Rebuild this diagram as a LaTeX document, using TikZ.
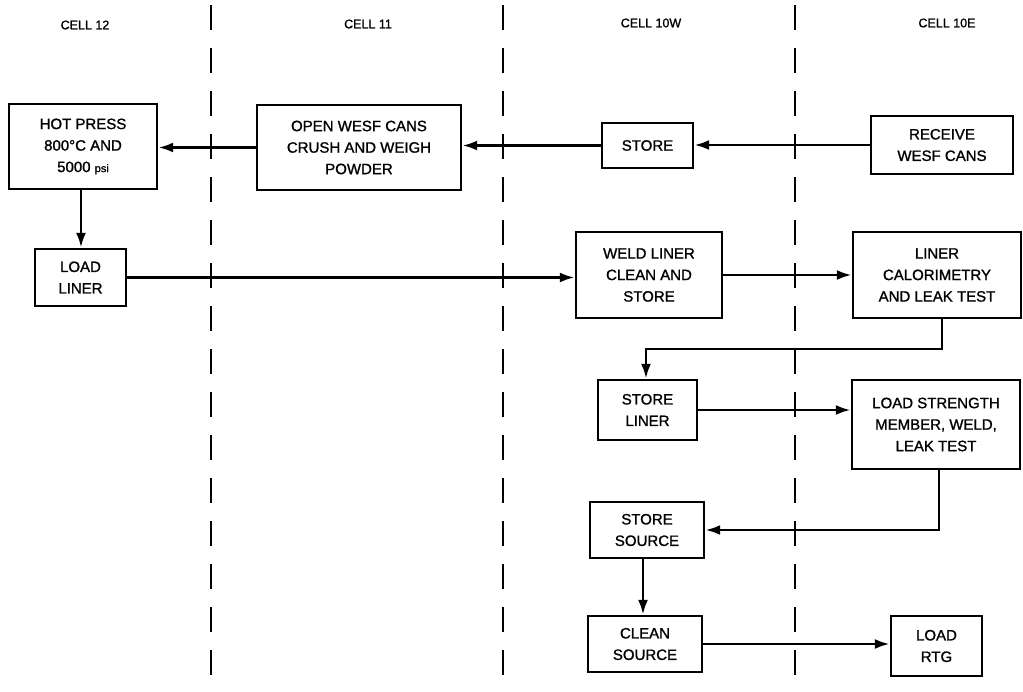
\documentclass[tikz,border=0pt]{standalone}
\usepackage{fontspec}
\setmainfont{Liberation Sans}
\newfontfamily\diagfont[FakeBold=1.2]{Liberation Sans}
\usetikzlibrary{arrows.meta}
\begin{document}
\begin{tikzpicture}[x=1pt,y=-1pt,
  box/.style={draw,line width=2.4pt,rectangle,inner sep=0pt,align=center,
    font=\diagfont\fontsize{15}{21.5}\selectfont},
  flow/.style={line width=2.8pt,-{Latex[length=15pt,width=10pt]}},
  divider/.style={line width=2.6pt,dash pattern=on 25pt off 18pt},
  cell/.style={font=\diagfont\fontsize{12.5}{15}\selectfont}]
\useasboundingbox (0,0) rectangle (1023,691);
% dividers
\draw[divider] (211,5) -- (211,691);
\draw[divider] (503,5) -- (503,691);
\draw[divider] (795,5) -- (795,691);
% cell labels
\node[cell] (c12) at (85,25) {CELL 12};
\node[cell] (c11) at (368,24) {CELL 11};
\node[cell] (c10w) at (651,23) {CELL 10W};
\node[cell] (c10e) at (947,23) {CELL 10E};
% boxes
\node[box,minimum width=148pt,minimum height=85pt] (hot) at (83,146.5) {HOT PRESS\\800\textdegree C AND\\5000 {\fontsize{11}{13}\selectfont psi}};
\node[box,minimum width=204pt,minimum height=85pt] (open) at (359,147.5) {OPEN WESF CANS\\CRUSH AND WEIGH\\POWDER};
\node[box,minimum width=91pt,minimum height=45pt] (store) at (647.5,145.5) {STORE};
\node[box,minimum width=142pt,minimum height=58pt] (recv) at (942,145) {RECEIVE\\WESF CANS};
\node[box,minimum width=91pt,minimum height=57pt] (ll) at (80.5,277.5) {LOAD\\LINER};
\node[box,minimum width=146pt,minimum height=86pt] (weld) at (649,275) {WELD LINER\\CLEAN AND\\STORE};
\node[box,minimum width=168pt,minimum height=86pt] (cal) at (937,275) {LINER\\CALORIMETRY\\AND LEAK TEST};
\node[box,minimum width=99pt,minimum height=60pt] (sl) at (647.5,410) {STORE\\LINER};
\node[box,minimum width=168pt,minimum height=89pt] (ls) at (936,424.5) {LOAD STRENGTH\\MEMBER, WELD,\\LEAK TEST};
\node[box,minimum width=114pt,minimum height=56pt] (ss) at (647,530) {STORE\\SOURCE};
\node[box,minimum width=114pt,minimum height=56pt] (cs) at (645,644) {CLEAN\\SOURCE};
\node[box,minimum width=91pt,minimum height=60pt] (rtg) at (936.5,646) {LOAD\\RTG};
% connectors
\draw[flow] (recv.west) -- (recv.west -| store.east);
\draw[flow] (store.west) -- (store.west -| open.east);
\draw[flow] (open.west) -- (open.west -| hot.east);
\coordinate (k0) at (81,0);
\draw[flow] (k0 |- hot.south) -- (k0 |- ll.north);
\draw[flow] (ll.east) -- (ll.east -| weld.west);
\draw[flow] (weld.east) -- (weld.east -| cal.west);
\coordinate (k1) at (942,349);
\coordinate (k1b) at (646,349);
\draw[flow] (k1 |- cal.south) -- (k1) -- (k1b) -- (k1b |- sl.north);
\draw[flow] (sl.east) -- (sl.east -| ls.west);
\coordinate (k2) at (939,530);
\draw[flow] (k2 |- ls.south) -- (k2) -- (k2 -| ss.east);
\coordinate (k3) at (643,0);
\draw[flow] (k3 |- ss.south) -- (k3 |- cs.north);
\draw[flow] (cs.east) -- (cs.east -| rtg.west);
\end{tikzpicture}
\end{document}
